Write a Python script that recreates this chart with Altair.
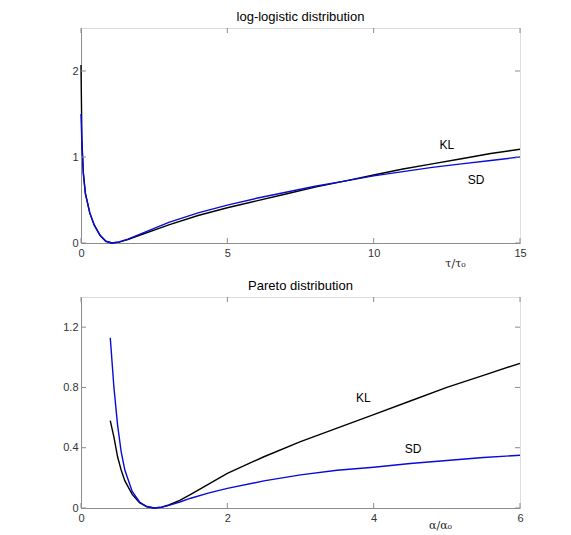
import altair as alt
import pandas as pd

# ---------- data: log-logistic panel ----------
ll_x = [0, 0.03, 0.08, 0.15, 0.3, 0.45, 0.65, 0.85, 1.05, 1.3, 1.6, 2, 2.5, 3, 4, 5, 6, 7, 8, 9, 10, 11, 12, 13, 14, 15]
ll_kl = [2.07, 1.2, 0.82, 0.58, 0.35, 0.21, 0.09, 0.02, 0.0, 0.01, 0.04, 0.09, 0.15, 0.21, 0.32, 0.41, 0.49, 0.57, 0.65, 0.72, 0.79, 0.86, 0.92, 0.98, 1.04, 1.09]
ll_sd = [1.5, 1.15, 0.8, 0.57, 0.35, 0.21, 0.09, 0.02, 0.0, 0.012, 0.045, 0.1, 0.17, 0.24, 0.35, 0.44, 0.52, 0.59, 0.66, 0.72, 0.78, 0.83, 0.88, 0.92, 0.96, 1.0]
ll_xticks = [0, 5, 10, 15]
ll_yticks = [0, 1, 2]
ll_labels = ["KL", "SD"]
ll_label_x = [12.5, 13.5]
ll_label_y = [1.14, 0.73]

# ---------- data: Pareto panel ----------
par_x = [0.4, 0.45, 0.5, 0.55, 0.6, 0.7, 0.8, 0.9, 1.0, 1.1, 1.2, 1.35, 1.5, 1.75, 2, 2.5, 3, 3.5, 4, 4.5, 5, 5.5, 6]
par_kl = [0.58, 0.47, 0.34, 0.25, 0.18, 0.09, 0.035, 0.008, 0.0, 0.006, 0.02, 0.05, 0.09, 0.16, 0.23, 0.34, 0.44, 0.53, 0.62, 0.71, 0.80, 0.88, 0.96]
par_sd = [1.13, 0.80, 0.55, 0.37, 0.25, 0.11, 0.04, 0.01, 0.0, 0.005, 0.017, 0.04, 0.065, 0.10, 0.13, 0.18, 0.22, 0.25, 0.27, 0.295, 0.315, 0.335, 0.35]
par_xticks = [0, 2, 4, 6]
par_yticks = [0, 0.4, 0.8, 1.2]
par_labels = ["KL", "SD"]
par_label_x = [3.86, 4.54]
par_label_y = [0.73, 0.39]

W = 439
FONT = "Liberation Sans"
AXIS_GRAY = "#8c8c8c"


def panel(xs, kl, sd, xticks, yticks, xdom, ydom, title, xtitle, H,
          lab, lab_x, lab_y, title_x, title_y):
    df = pd.DataFrame({"x": xs, "KL": kl, "SD": sd})
    xscale = alt.Scale(domain=xdom, nice=False, zero=False)
    yscale = alt.Scale(domain=ydom, nice=False, zero=False)
    xaxis = alt.Axis(values=xticks, ticks=False, tickSize=0, grid=False,
                     title=xtitle, titleX=title_x, titleY=title_y,
                     titleFont="DejaVu Serif", titleFontSize=11, titleFontWeight="normal",
                     titleColor="#222", titleAlign="center", titleBaseline="middle",
                     format=".1~f", labelFlush=False, labelPadding=4,
                     labelFontSize=11, labelColor="#333", domainColor=AXIS_GRAY)
    yaxis = alt.Axis(values=yticks, ticks=False, tickSize=0, grid=False, title=None,
                     format=".1~f", labelPadding=3, labelFontSize=11, labelColor="#333",
                     domainColor=AXIS_GRAY)

    def X(f):
        return alt.X(f, type="quantitative", scale=xscale, axis=xaxis)

    def Y(f):
        return alt.Y(f, type="quantitative", scale=yscale, axis=yaxis)

    kl_line = alt.Chart(df).mark_line(color="black", strokeWidth=1.4).encode(
        x=X("x"), y=Y("KL"))
    sd_line = alt.Chart(df).mark_line(color="#0a0ad8", strokeWidth=1.4).encode(
        x=X("x"), y=Y("SD"))
    lab_df = pd.DataFrame({"lab": lab, "lx": lab_x, "ly": lab_y})
    labels = alt.Chart(lab_df).mark_text(font=FONT, fontSize=12, color="black").encode(
        x=X("lx"), y=Y("ly"), text="lab:N")
    xt = pd.DataFrame({"tv": xticks})
    yt = pd.DataFrame({"tv": yticks})
    tick_b = alt.Chart(xt).mark_rule(color=AXIS_GRAY).encode(
        x=X("tv"), y=alt.value(H), y2=alt.value(H - 5))
    tick_t = alt.Chart(xt).mark_rule(color=AXIS_GRAY).encode(
        x=X("tv"), y=alt.value(0), y2=alt.value(5))
    tick_l = alt.Chart(yt).mark_rule(color=AXIS_GRAY).encode(
        y=Y("tv"), x=alt.value(0), x2=alt.value(5))
    tick_r = alt.Chart(yt).mark_rule(color=AXIS_GRAY).encode(
        y=Y("tv"), x=alt.value(W), x2=alt.value(W - 5))

    return alt.layer(kl_line, sd_line, labels, tick_b, tick_t, tick_l, tick_r).properties(
        width=W, height=H,
        title=alt.TitleParams(title, font=FONT, fontSize=13, fontWeight="normal",
                              color="black", anchor="middle", offset=4),
    )


top = panel(ll_x, ll_kl, ll_sd, ll_xticks, ll_yticks, [0, 15], [0, 2.5],
            "log-logistic distribution", "τ/τ₀", 215,
            ll_labels, ll_label_x, ll_label_y, 374, 20)
bottom = panel(par_x, par_kl, par_sd, par_xticks, par_yticks, [0, 6], [0, 1.4],
               "Pareto distribution", "α/α₀", 211,
               par_labels, par_label_x, par_label_y, 359, 17)

chart = alt.vconcat(top, bottom, spacing=10).properties(
    padding={"left": 54, "top": 2, "right": 5, "bottom": 0},
    background="white",
).configure_view(stroke=AXIS_GRAY, strokeWidth=1).configure(font=FONT)

chart.save("out.html", embed_options={"renderer": "svg", "actions": False})
